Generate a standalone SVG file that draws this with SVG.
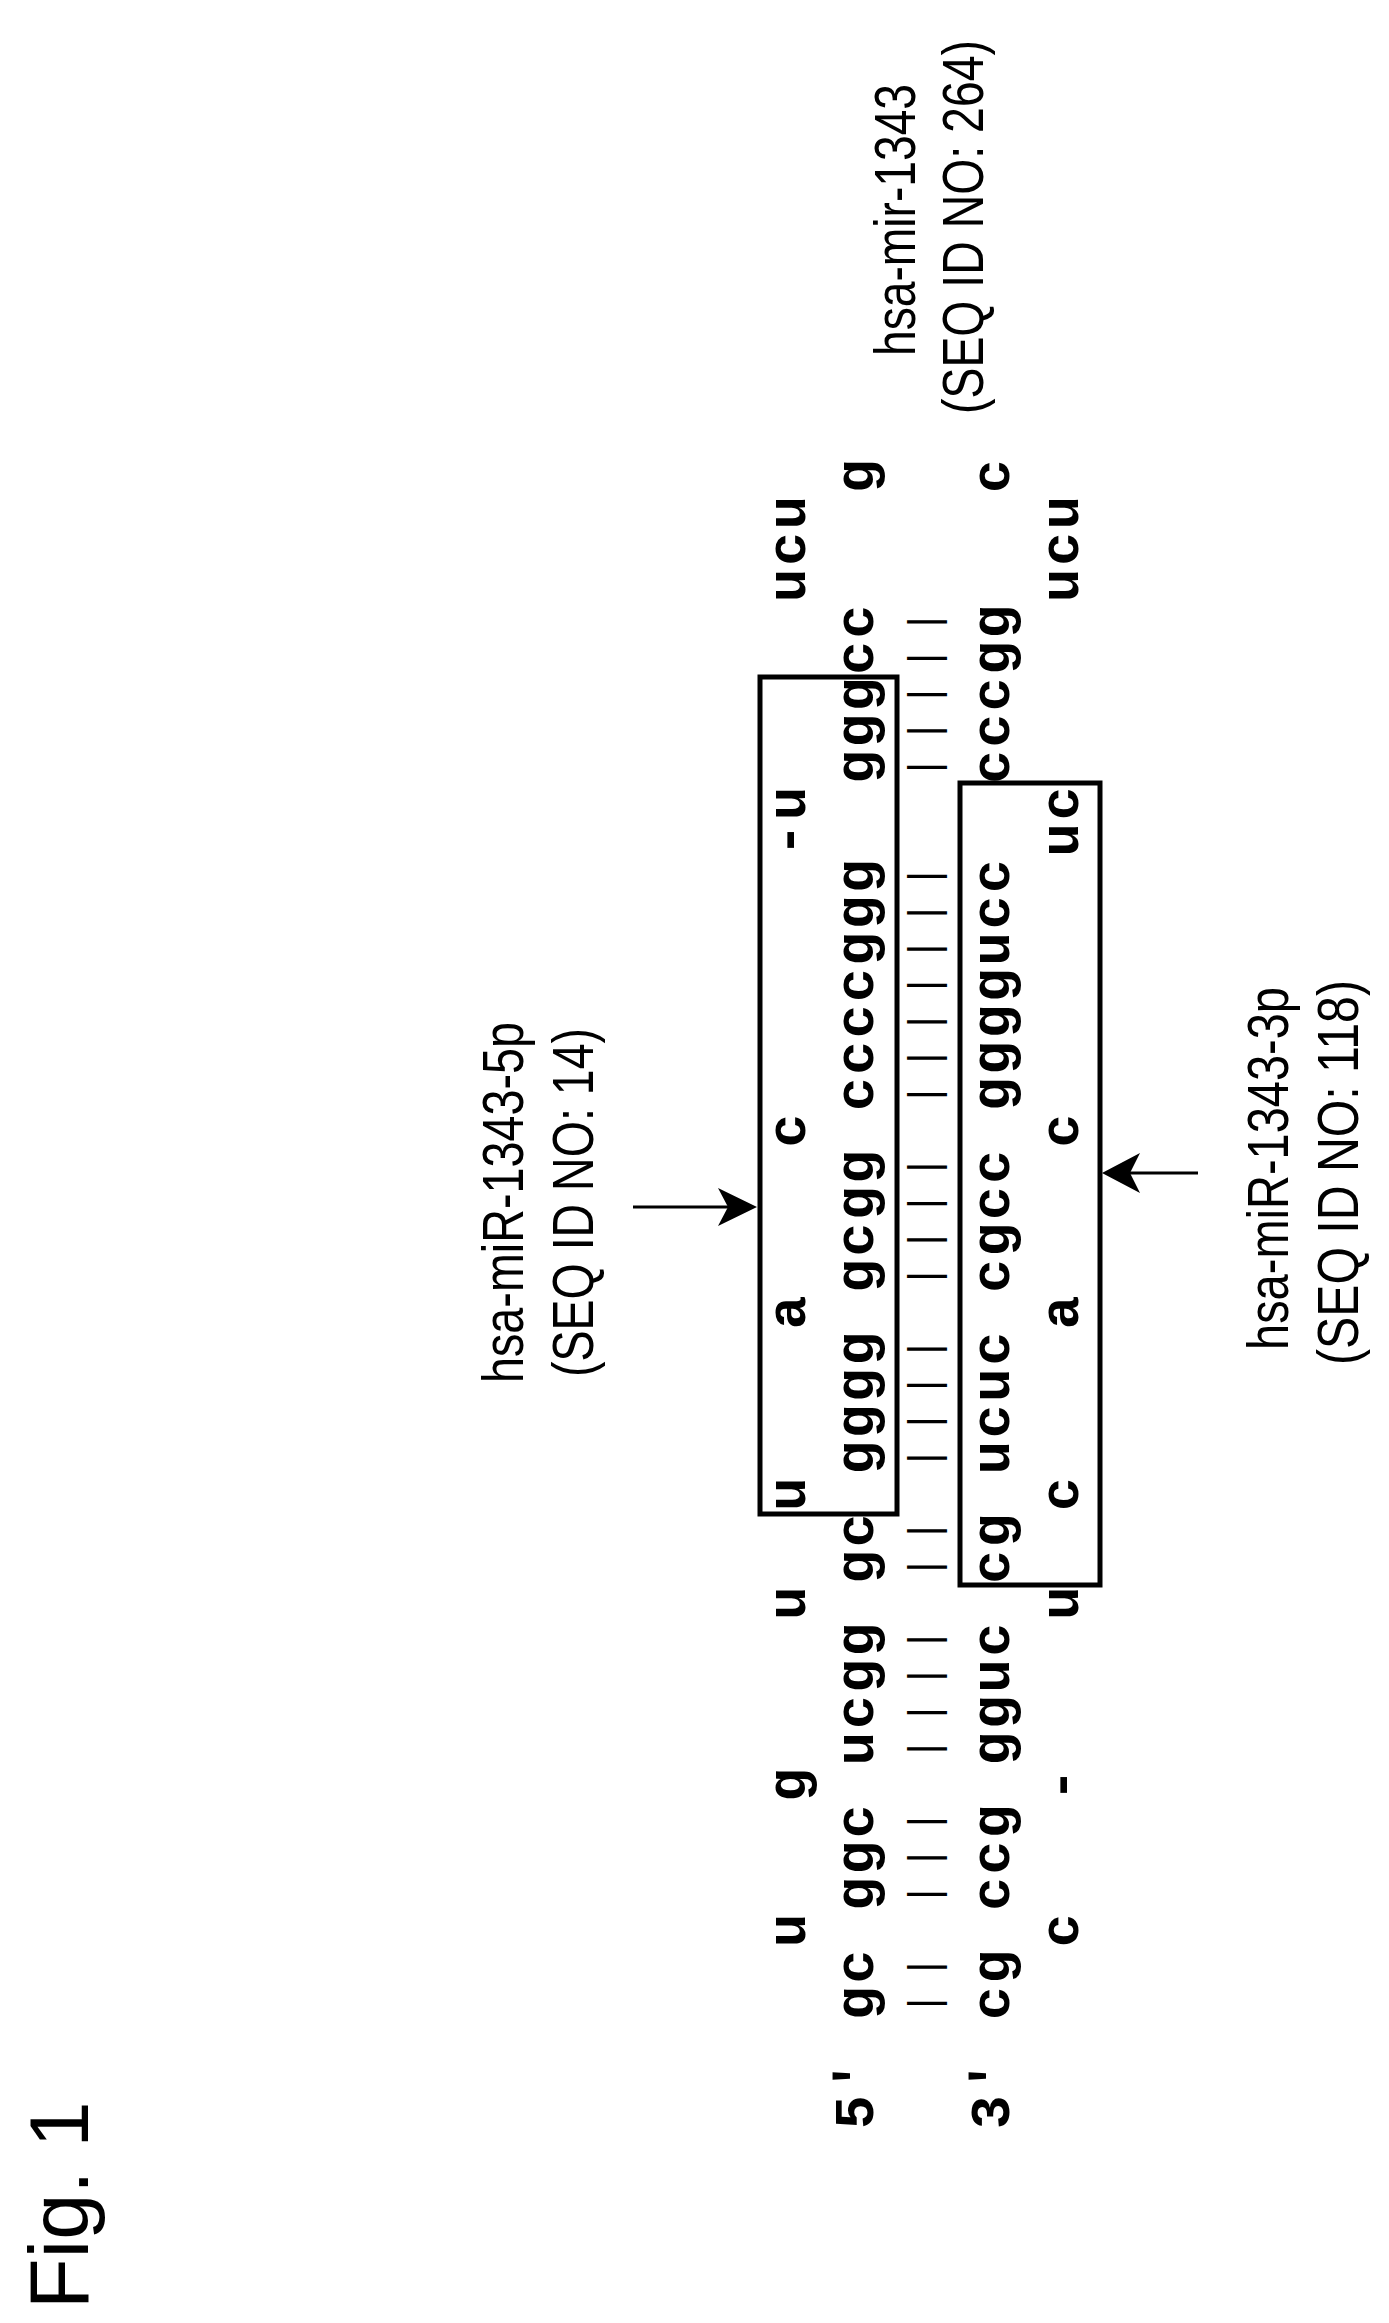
<svg xmlns="http://www.w3.org/2000/svg" width="1389" height="2323" viewBox="0 0 1389 2323">
<style>
.seq{font-family:"Liberation Mono",monospace;font-weight:bold;font-size:56px;letter-spacing:2.75px;white-space:pre;fill:#000}
.bar{font-family:"Liberation Mono",monospace;font-size:42px;letter-spacing:11.15px;white-space:pre;fill:#000}
.lbl{font-family:"Liberation Sans",Arial,sans-serif;font-size:58px;fill:#000}
.box{fill:none;stroke:#000;stroke-width:5}
.ln{stroke:#000;stroke-width:3;fill:none}
</style>
<rect width="1389" height="2323" fill="#fff"/>
<text class="lbl" style="font-size:83px" transform="translate(88,2309) rotate(-90)">Fig. 1</text>
<g id="structure">
<text class="seq" xml:space="preserve" transform="translate(805,2020) rotate(-90)">  u   g    u  u    a    c       -u     ucu</text>
<text class="seq" xml:space="preserve" transform="translate(873,2129) rotate(-90)">5' gc ggc ucgg gc gggg gcgg ccccggg  gggcc   g</text>
<text class="bar" xml:space="preserve" transform="translate(938,2016) rotate(-90)">|| ||| |||| || |||| |||| |||||||  |||||</text>
<text class="seq" xml:space="preserve" transform="translate(1009,2129) rotate(-90)">3' cg ccg gguc cg ucuc cgcc ggggucc  cccgg   c</text>
<text class="seq" xml:space="preserve" transform="translate(1078,2020) rotate(-90)">  c   -    u  c    a    c       uc     ucu</text>
</g>
<g id="box-5p"><rect class="box" x="760" y="677" width="137" height="837"/></g>
<g id="box-3p"><rect class="box" x="960" y="783" width="140" height="802"/></g>
<g id="label-mir"><text class="lbl" transform="translate(915,356) rotate(-90)" textLength="272" lengthAdjust="spacingAndGlyphs">hsa-mir-1343</text>
<text class="lbl" transform="translate(983,414) rotate(-90)" textLength="374" lengthAdjust="spacingAndGlyphs">(SEQ ID NO: 264)</text></g>
<g id="label-5p"><text class="lbl" transform="translate(523,1383) rotate(-90)" textLength="361" lengthAdjust="spacingAndGlyphs">hsa-miR-1343-5p</text>
<text class="lbl" transform="translate(593,1377) rotate(-90)" textLength="349" lengthAdjust="spacingAndGlyphs">(SEQ ID NO: 14)</text></g>
<g id="label-3p"><text class="lbl" transform="translate(1288,1350) rotate(-90)" textLength="363" lengthAdjust="spacingAndGlyphs">hsa-miR-1343-3p</text>
<text class="lbl" transform="translate(1358,1365) rotate(-90)" textLength="385" lengthAdjust="spacingAndGlyphs">(SEQ ID NO: 118)</text></g>
<g id="connectors">
<line class="ln" x1="633" y1="1207" x2="735" y2="1207"/>
<path d="M757,1207 L718,1188 L728,1207 L718,1226 Z" fill="#000"/>
<line class="ln" x1="1198" y1="1173" x2="1122" y2="1173"/>
<path d="M1102,1173 L1140,1153 L1130,1173 L1140,1193 Z" fill="#000"/>
</g>
</svg>
